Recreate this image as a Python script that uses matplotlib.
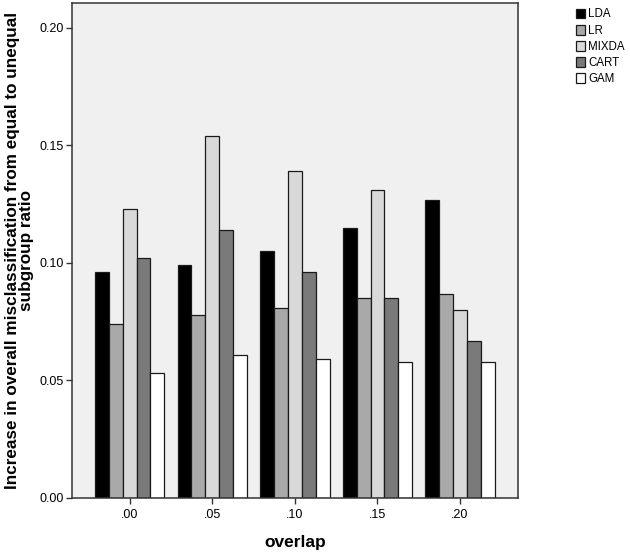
import numpy as np
import matplotlib
matplotlib.use("Agg")
import matplotlib.pyplot as plt

plt.rcParams['font.family'] = ['Liberation Sans', 'DejaVu Sans']

# data
overlap = ['.00', '.05', '.10', '.15', '.20']
methods = ['LDA', 'LR', 'MIXDA', 'CART', 'GAM']
lda = [0.096, 0.099, 0.105, 0.115, 0.127]
lr = [0.074, 0.078, 0.081, 0.085, 0.087]
mixda = [0.123, 0.154, 0.139, 0.131, 0.080]
cart = [0.102, 0.114, 0.096, 0.085, 0.067]
gam = [0.053, 0.061, 0.059, 0.058, 0.058]
colors = ['#000000', '#a9a9a9', '#d9d9d9', '#7a7a7a', '#ffffff']

series = [lda, lr, mixda, cart, gam]

fig = plt.figure(figsize=(6.3, 5.53), dpi=100)
ax = fig.add_axes([0.114, 0.0995, 0.708, 0.895])
ax.set_facecolor('#f0f0f0')

x = np.arange(len(overlap))
w = 0.168
for i, (vals, name, c) in enumerate(zip(series, methods, colors)):
    ax.bar(x + (i - 2) * w, vals, width=w, color=c, edgecolor='#1a1a1a',
           linewidth=0.9, label=name, zorder=2)

ax.set_xlim(-0.7, 4.7)
ax.set_ylim(0, 0.2106)
ax.set_xticks(x)
ax.set_xticklabels(overlap, fontsize=9)
ax.set_yticks([0.0, 0.05, 0.10, 0.15, 0.20])
ax.set_yticklabels(['0.00', '0.05', '0.10', '0.15', '0.20'], fontsize=9)
ax.tick_params(axis='both', direction='out', length=4, width=1, color='#333333')
ax.tick_params(axis='x', pad=4)
ax.tick_params(axis='y', pad=2)

for s in ax.spines.values():
    s.set_color('#333333')
    s.set_linewidth(1.1)

ax.set_xlabel('overlap', fontsize=12.5, fontweight='bold', labelpad=10)
ax.set_ylabel('Increase in overall misclassification from equal to unequal\nsubgroup ratio',
              fontsize=12.3, fontweight='bold', labelpad=4, linespacing=0.9)

leg = fig.legend(loc='upper left', bbox_to_anchor=(0.907, 0.993), frameon=False,
                 fontsize=8.3, handlelength=0.8, handleheight=0.95,
                 handletextpad=0.25, labelspacing=0.35, borderaxespad=0)

fig.savefig('out.png', dpi=100)
